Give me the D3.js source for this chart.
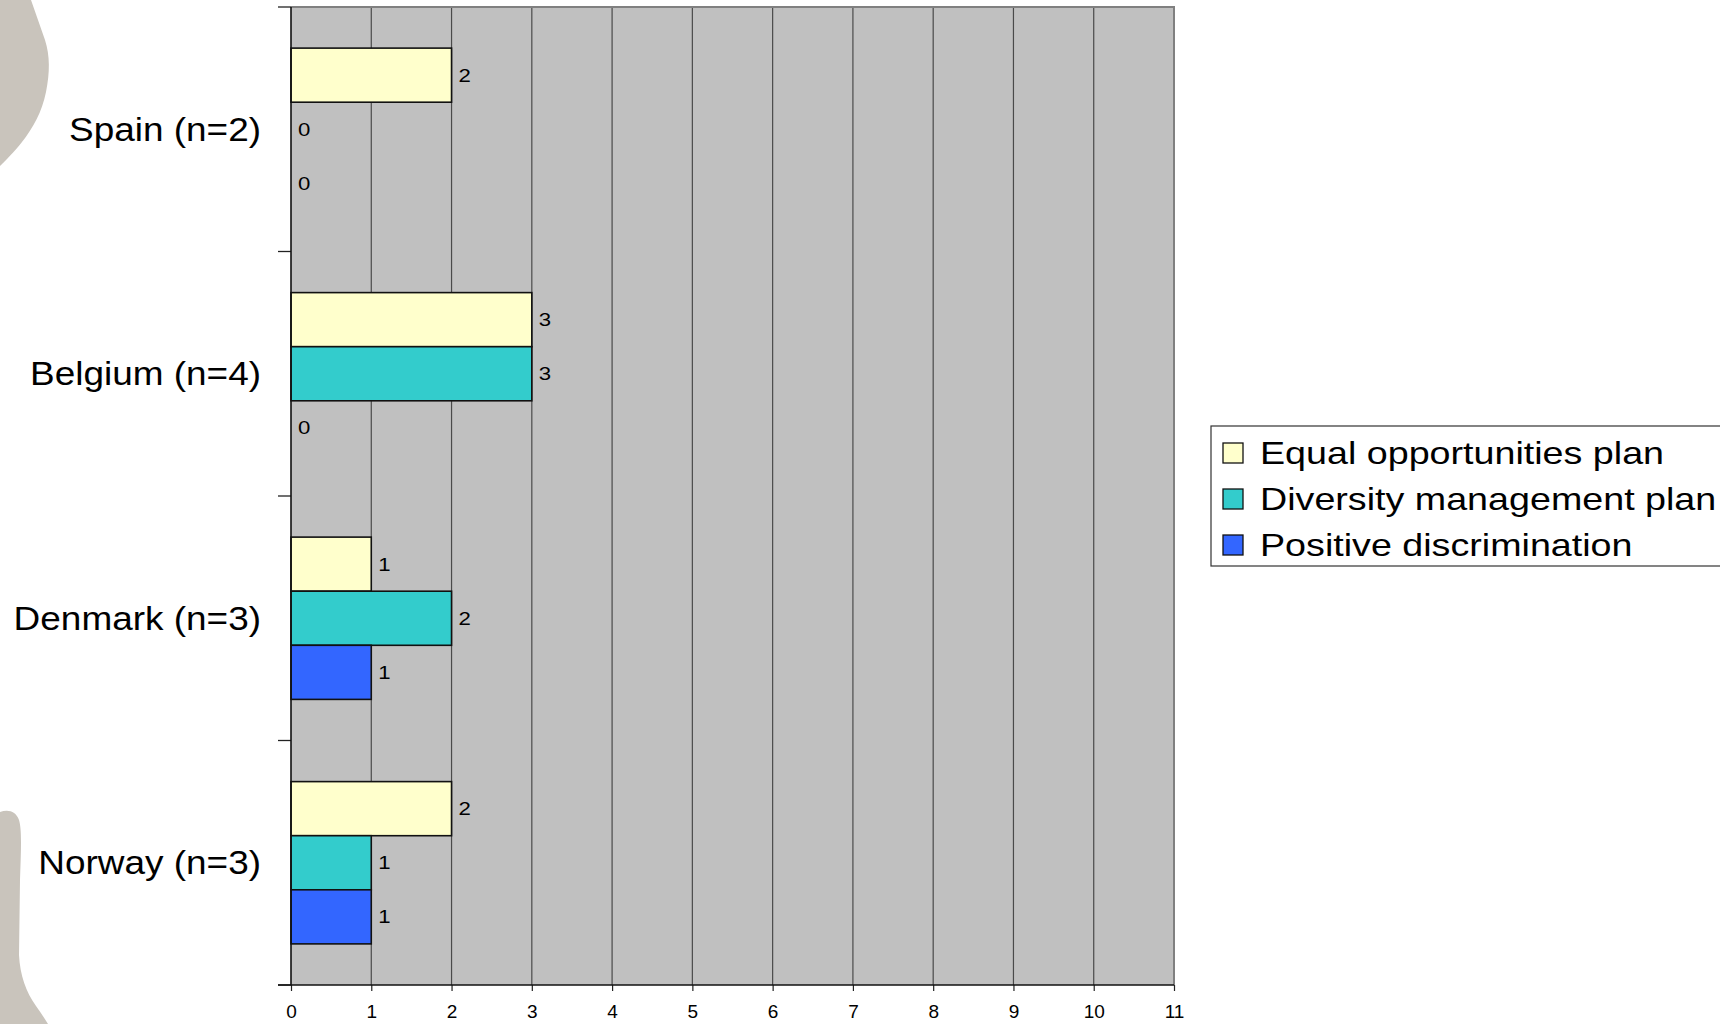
<!DOCTYPE html>
<html>
<head>
<meta charset="utf-8">
<script src="https://cdn.jsdelivr.net/npm/d3@7"></script>
<style>
  html, body { margin: 0; padding: 0; background: #ffffff; }
  svg { display: block; }
  text { font-family: "Liberation Sans", Arial, sans-serif; fill: #000; }
</style>
</head>
<body>
<svg id="chart" width="1720" height="1024"></svg>
<script>
// Countries (top to bottom) and the plans reported in each
const categories = ["Spain (n=2)", "Belgium (n=4)", "Denmark (n=3)", "Norway (n=3)"];
const seriesNames = ["Equal opportunities plan", "Diversity management plan", "Positive discrimination"];
const equalOpportunities = [2, 3, 1, 2];
const diversityManagement = [0, 3, 2, 1];
const positiveDiscrimination = [0, 0, 1, 1];
const xTicks = [0, 1, 2, 3, 4, 5, 6, 7, 8, 9, 10, 11];
const seriesColors = ["#ffffcc", "#33cccc", "#3366ff"];

const seriesValues = [equalOpportunities, diversityManagement, positiveDiscrimination];

const svg = d3.select("#chart");

// Decorative backdrop shapes on the left edge
const blobFill = "#c9c4bc";
svg.append("path")
  .attr("fill", blobFill)
  .attr("d", "M0,0 L31,0 C36,14 40,26 45,40 C50,56 50,72 46,92 C42,112 33,128 22,142 C14,152 6,160 0,166 Z");
svg.append("path")
  .attr("fill", blobFill)
  .attr("d", "M0,812 C8,809 16,811 19,820 C22,830 21,850 20,880 L19,955 C20,975 26,992 36,1006 C41,1013 45,1019 48,1024 L0,1024 Z");

// Plot area
const plot = { left: 291, top: 7, right: 1174, bottom: 985 };

const x = d3.scaleLinear().domain([0, 11]).range([plot.left, plot.right]);
const y = d3.scaleBand().domain(categories).range([plot.top, plot.bottom]).padding(0);
const ySub = d3.scaleBand().domain(seriesNames).range([0, y.bandwidth()])
  .paddingInner(0).paddingOuter(0.76);

svg.append("rect")
  .attr("x", plot.left).attr("y", plot.top)
  .attr("width", plot.right - plot.left).attr("height", plot.bottom - plot.top)
  .attr("fill", "#c0c0c0");

// Vertical gridlines
svg.append("g")
  .selectAll("line")
  .data(xTicks.filter(t => t > 0 && t < 11))
  .join("line")
  .attr("x1", d => x(d)).attr("x2", d => x(d))
  .attr("y1", plot.top).attr("y2", plot.bottom)
  .attr("stroke", "#4a4a4a").attr("stroke-width", 1.2);

// Plot frame (top and right)
svg.append("path")
  .attr("d", `M${plot.left},${plot.top} H${plot.right} V${plot.bottom}`)
  .attr("fill", "none").attr("stroke", "#808080").attr("stroke-width", 2);

// Bars
const rows = categories.flatMap((c, i) =>
  seriesNames.map((s, j) => ({ cat: c, series: s, idx: j, value: seriesValues[j][i] })));

const barG = svg.append("g");
barG.selectAll("rect")
  .data(rows.filter(d => d.value > 0))
  .join("rect")
  .attr("x", x(0))
  .attr("y", d => y(d.cat) + ySub(d.series))
  .attr("width", d => x(d.value) - x(0))
  .attr("height", ySub.bandwidth())
  .attr("fill", d => seriesColors[d.idx])
  .attr("stroke", "#111").attr("stroke-width", 1.6);

// Value labels
const valueScaleX = 1.2;
barG.selectAll("text")
  .data(rows)
  .join("text")
  .attr("transform", d => `translate(${x(d.value) + 7},${y(d.cat) + ySub(d.series) + ySub.bandwidth() / 2}) scale(${valueScaleX},1)`)
  .attr("dy", "0.35em")
  .attr("font-size", 18.5)
  .text(d => d.value);

// Y axis with category labels
const yAxisG = svg.append("g").attr("transform", `translate(${plot.left},0)`);
const boundaries = categories.map(c => y(c)).concat([plot.bottom]);
yAxisG.selectAll("line.tick")
  .data(boundaries)
  .join("line")
  .attr("class", "tick")
  .attr("x1", -13).attr("x2", 0)
  .attr("y1", d => d).attr("y2", d => d)
  .attr("stroke", "#222").attr("stroke-width", 1.3);
yAxisG.append("line")
  .attr("x1", 0).attr("x2", 0).attr("y1", plot.top).attr("y2", plot.bottom)
  .attr("stroke", "#111").attr("stroke-width", 1.6);
const catScaleX = 1.12;
yAxisG.selectAll("text")
  .data(categories)
  .join("text")
  .attr("transform", d => `translate(-30,${y(d) + y.bandwidth() / 2}) scale(${catScaleX},1)`)
  .attr("dy", "0.35em")
  .attr("text-anchor", "end")
  .attr("font-size", 33)
  .text(d => d);

// X axis
const xAxis = d3.axisBottom(x).tickValues(xTicks).tickSize(6).tickPadding(14).tickFormat(d3.format("d"));
const xAxisG = svg.append("g").attr("transform", `translate(0,${plot.bottom})`).call(xAxis);
xAxisG.select(".domain").remove();
xAxisG.append("line")
  .attr("x1", plot.left - 13).attr("x2", plot.right).attr("y1", 0).attr("y2", 0)
  .attr("stroke", "#111").attr("stroke-width", 1.6);
xAxisG.selectAll(".tick line").attr("stroke", "#222").attr("stroke-width", 1.2);
xAxisG.selectAll(".tick text")
  .attr("font-size", 19)
  .attr("font-family", "Liberation Sans, Arial, sans-serif")
  .attr("fill", "#000");

// Legend
const legend = { x: 1211, y: 426, w: 520, h: 140, rowH: 46 };
const legG = svg.append("g").attr("transform", `translate(${legend.x},${legend.y})`);
legG.append("rect")
  .attr("x", 0).attr("y", 0).attr("width", legend.w).attr("height", legend.h)
  .attr("fill", "#ffffff").attr("stroke", "#333").attr("stroke-width", 1.2);
const legItems = legG.selectAll("g.item")
  .data(seriesNames)
  .join("g")
  .attr("class", "item")
  .attr("transform", (d, i) => `translate(0,${27 + i * legend.rowH})`);
legItems.append("rect")
  .attr("x", 12).attr("y", -10).attr("width", 20).attr("height", 20)
  .attr("fill", (d, i) => seriesColors[i])
  .attr("stroke", "#111").attr("stroke-width", 1.3);
legItems.append("text")
  .attr("transform", `translate(49,0) scale(1.215,1)`)
  .attr("dy", "0.36em")
  .attr("font-size", 31)
  .text(d => d);
</script>
</body>
</html>
